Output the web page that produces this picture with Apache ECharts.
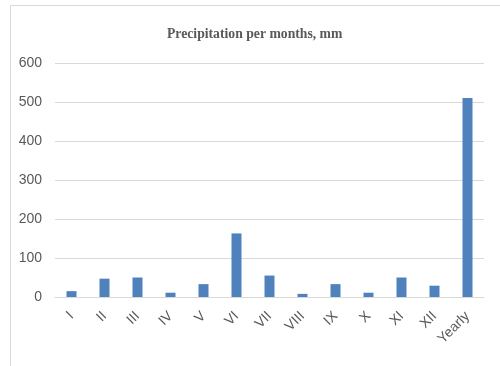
<!DOCTYPE html>
<html>
<head>
<meta charset="utf-8">
<script src="https://cdn.jsdelivr.net/npm/echarts@6/dist/echarts.min.js"></script>
<style>
  html, body { margin: 0; padding: 0; background: #fff; }
  #chart { width: 500px; height: 366px; }
</style>
</head>
<body>
<div id="chart"></div>
<script>
// Monthly precipitation plus the yearly total, mm
const months = ['I', 'II', 'III', 'IV', 'V', 'VI', 'VII', 'VIII', 'IX', 'X', 'XI', 'XII', 'Yearly'];
const precipitation = [15, 47, 50, 11, 33, 163, 55, 8, 33, 11, 50, 29, 510];
const yTicks = [0, 100, 200, 300, 400, 500, 600];

const chart = echarts.init(document.getElementById('chart'), null, { renderer: 'canvas' });
chart.setOption({
  animation: false,
  backgroundColor: '#ffffff',
  graphic: [{
    type: 'rect',
    silent: true,
    shape: { x: 10.5, y: 5.5, width: 520, height: 420 },
    style: { fill: 'none', stroke: '#d9d9d9', lineWidth: 1 }
  }],
  title: {
    text: 'Precipitation per months, mm',
    left: 162,
    top: 22,
    textStyle: {
      fontFamily: 'Liberation Serif',
      fontWeight: 'bold',
      fontSize: 13.7,
      color: '#595959'
    }
  },
  grid: { left: 55, right: 16, top: 63, bottom: 69 },
  xAxis: {
    type: 'category',
    data: months,
    axisLine: { lineStyle: { color: '#d9d9d9', width: 1 } },
    axisTick: { show: false },
    axisLabel: {
      rotate: 45,
      interval: 0,
      margin: 17,
      fontFamily: 'Liberation Sans',
      fontSize: 14,
      color: '#595959'
    }
  },
  yAxis: {
    type: 'value',
    min: yTicks[0],
    max: yTicks[yTicks.length - 1],
    interval: 100,
    axisLine: { show: false },
    axisTick: { show: false },
    splitLine: { lineStyle: { color: '#d9d9d9', width: 1 } },
    axisLabel: {
      margin: 13,
      fontFamily: 'Liberation Sans',
      fontSize: 14,
      color: '#595959'
    }
  },
  series: [{
    type: 'bar',
    data: precipitation,
    barWidth: 10,
    itemStyle: { color: '#4f81bd' }
  }]
});
</script>
</body>
</html>
